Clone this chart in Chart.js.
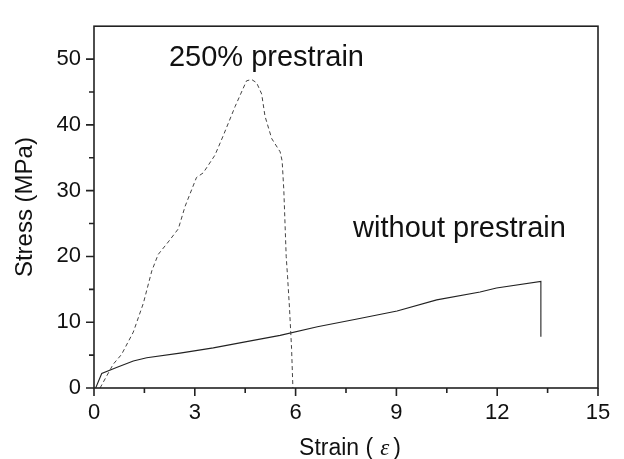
<!DOCTYPE html>
<html>
<head>
<meta charset="utf-8">
<script src="https://cdn.jsdelivr.net/npm/chart.js@4/dist/chart.umd.min.js"></script>
<style>
  body { margin: 0; background: #fff; }
  #chartBox { width: 624px; height: 459px; }
</style>
</head>
<body>
<div id="chartBox"><canvas id="stressChart" width="624" height="459"></canvas></div>
<script>
// strain / stress
const plainStrain = [0.05, 0.23, 0.67, 1.17, 1.57, 2.56, 3.55, 4.54, 5.54, 6.65, 7.83, 9.02, 10.2, 11.49, 11.98, 13.3, 13.3];
const plainStress = [0, 2.2, 3.1, 4.1, 4.6, 5.3, 6.1, 7.05, 8.0, 9.3, 10.5, 11.7, 13.4, 14.6, 15.2, 16.2, 7.8];

const preStrain = [0.18, 0.57, 0.82, 1.17, 1.47, 1.72, 1.91, 2.21, 2.51, 2.71, 3.05, 3.25, 3.6, 3.85, 4.2, 4.54, 4.69, 4.84, 4.99, 5.09, 5.29, 5.54, 5.6, 5.65, 5.72, 5.76, 5.82, 5.88, 5.92];
const preStress = [0, 3.6, 5.1, 8.5, 12.9, 17.8, 20.3, 22.2, 24.2, 27.6, 32.0, 32.7, 35.4, 38.4, 42.8, 46.7, 46.9, 46.4, 44.7, 41.3, 37.9, 35.9, 34.5, 30, 20, 17, 12, 6, 0];

const xTicks = [0, 3, 6, 9, 12, 15];
const xMinor = [1.5, 4.5, 7.5, 10.5, 13.5];
const yTicks = [0, 10, 20, 30, 40, 50];
const yMinor = [5, 15, 25, 35, 45];

const noteText = ["250% prestrain", "without prestrain"];
const noteX = [2.23, 7.71];
const noteY = [48.9, 23.0];

const ink = "#111";
const fontFamily = "'Liberation Sans', Arial, sans-serif";

function toPoints(xs, ys) {
  return xs.map((x, i) => ({ x: x, y: ys[i] }));
}

// x title with an italic serif epsilon, drawn in pieces
function drawStrainTitle(ctx, centerX, baseY) {
  const parts = [
    { t: "Strain (", f: "23px " + fontFamily, gap: 7 },
    { t: "ε", f: "italic 23px 'Liberation Serif', 'DejaVu Serif', serif", gap: 4 },
    { t: ")", f: "23px " + fontFamily, gap: 0 }
  ];
  let total = 0;
  parts.forEach(p => { ctx.font = p.f; p.w = ctx.measureText(p.t).width; total += p.w + p.gap; });
  let x = centerX - total / 2 + 4;
  ctx.textAlign = "left";
  ctx.textBaseline = "alphabetic";
  parts.forEach(p => {
    ctx.font = p.f;
    ctx.fillText(p.t, x, baseY);
    x += p.w + p.gap;
  });
}

// frame, outward ticks and the two curve labels
const framePlugin = {
  id: "frame",
  afterDraw(chart) {
    const ctx = chart.ctx;
    const area = chart.chartArea;
    const xs = chart.scales.x;
    const ys = chart.scales.y;
    ctx.save();
    ctx.strokeStyle = "#222";
    ctx.lineWidth = 1.6;
    ctx.strokeRect(area.left, area.top, area.right - area.left, area.bottom - area.top);

    ctx.beginPath();
    xTicks.forEach(v => {
      const px = xs.getPixelForValue(v);
      ctx.moveTo(px, area.bottom);
      ctx.lineTo(px, area.bottom + 8);
    });
    xMinor.forEach(v => {
      const px = xs.getPixelForValue(v);
      ctx.moveTo(px, area.bottom);
      ctx.lineTo(px, area.bottom + 5);
    });
    yTicks.forEach(v => {
      const py = ys.getPixelForValue(v);
      ctx.moveTo(area.left, py);
      ctx.lineTo(area.left - 8, py);
    });
    yMinor.forEach(v => {
      const py = ys.getPixelForValue(v);
      ctx.moveTo(area.left, py);
      ctx.lineTo(area.left - 5, py);
    });
    ctx.stroke();

    ctx.fillStyle = ink;
    ctx.font = "29px " + fontFamily;
    ctx.textAlign = "left";
    ctx.textBaseline = "alphabetic";
    noteText.forEach((t, i) => {
      ctx.fillText(t, xs.getPixelForValue(noteX[i]), ys.getPixelForValue(noteY[i]));
    });

    drawStrainTitle(ctx, (area.left + area.right) / 2, chart.height - 4);
    ctx.restore();
  }
};

new Chart(document.getElementById("stressChart"), {
  type: "scatter",
  data: {
    datasets: [
      {
        label: "250% prestrain",
        data: toPoints(preStrain, preStress),
        showLine: true,
        borderColor: "#444",
        borderWidth: 1,
        borderDash: [4, 3],
        pointRadius: 0,
        tension: 0
      },
      {
        label: "without prestrain",
        data: toPoints(plainStrain, plainStress),
        showLine: true,
        borderColor: "#222",
        borderWidth: 1.1,
        pointRadius: 0,
        tension: 0
      }
    ]
  },
  options: {
    responsive: false,
    animation: false,
    layout: { padding: { top: 13, right: 26, left: 0, bottom: 0 } },
    plugins: {
      legend: { display: false },
      tooltip: { enabled: false }
    },
    scales: {
      x: {
        type: "linear",
        min: 0,
        max: 15,
        afterBuildTicks: s => { s.ticks = xTicks.map(v => ({ value: v })); },
        afterFit: s => { s.height = 71; },
        grid: { display: false, drawTicks: false },
        border: { display: false },
        ticks: {
          padding: 12,
          color: ink,
          font: { family: fontFamily, size: 22 },
          maxRotation: 0
        },
        title: { display: false }
      },
      y: {
        type: "linear",
        min: 0,
        max: 55,
        afterBuildTicks: s => { s.ticks = yTicks.map(v => ({ value: v })); },
        afterFit: s => { s.width = 94; },
        grid: { display: false, drawTicks: false },
        border: { display: false },
        ticks: {
          padding: 13,
          color: ink,
          font: { family: fontFamily, size: 22 }
        },
        title: {
          display: true,
          text: "Stress (MPa)",
          color: ink,
          font: { family: fontFamily, size: 24, lineHeight: 1 },
          padding: { top: 13, bottom: 0 }
        }
      }
    }
  },
  plugins: [framePlugin]
});
</script>
</body>
</html>
